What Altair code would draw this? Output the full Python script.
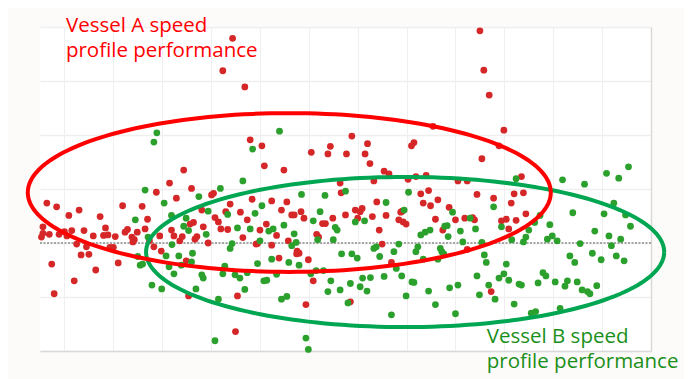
import altair as alt
import pandas as pd

# Vessel A (red) points: speed (knots) and performance deviation (%)
red_speed = [13.44, 13.24, 13.69, 13.80, 14.04, 18.50, 18.58, 18.69, 18.99, 17.54,
             18.89, 15.88, 16.20, 17.15, 17.10, 14.09, 14.49, 15.05, 15.39, 15.44,
             15.77, 12.44, 12.15, 12.60, 15.64, 16.15, 16.25, 18.54, 16.54, 16.64,
             16.33, 17.19, 17.40, 17.03, 18.05, 18.24, 19.35, 9.64, 9.84, 10.09,
             10.30, 10.73, 9.56, 9.56, 9.53, 9.69, 9.89, 10.00, 10.05, 10.15,
             10.25, 10.40, 10.45, 10.59, 10.80, 10.84, 10.89, 10.93, 11.00, 11.04,
             11.19, 11.24, 11.29, 11.38, 11.43, 11.40, 11.49, 11.59, 11.65, 11.70,
             11.74, 11.83, 11.95, 11.98, 12.29, 11.88, 12.19, 12.24, 12.41, 12.36,
             12.57, 13.01, 13.05, 13.39, 13.84, 14.24, 14.55, 15.66, 12.64, 12.81,
             12.84, 12.71, 12.67, 12.94, 13.08, 13.15, 13.20, 13.30, 13.34, 13.60,
             13.74, 13.65, 14.00, 14.13, 14.34, 14.44, 14.65, 14.70, 13.92, 13.95,
             14.24, 14.58, 14.84, 14.90, 15.16, 15.20, 15.28, 15.34, 15.49, 14.76,
             17.29, 17.45, 17.34, 17.49, 17.64, 16.39, 15.75, 15.95, 16.05, 16.09,
             16.00, 16.30, 16.58, 16.88, 16.91, 16.84, 16.93, 16.99, 16.44, 16.50,
             17.59, 17.87, 18.00, 17.74, 18.19, 18.39, 18.35, 18.44, 18.78, 18.24,
             19.20, 19.39, 19.14, 19.44, 19.24, 18.94, 19.04, 19.09, 9.74, 9.79,
             10.20, 10.34, 10.50, 10.64, 11.10, 12.49, 12.54, 13.54, 13.50, 14.39,
             14.75, 14.80, 14.99, 14.94, 15.09, 16.69, 15.85, 18.73]
red_perf = [37.9, 31.9, 28.9, 19.1, 18.0, 39.3, 32.0, 27.4, 20.9, 21.6,
            18.0, 19.8, 18.4, 18.6, 18.0, 14.3, 13.5, 16.8, 16.5, 17.9,
            16.5, 13.5, 11.1, 10.1, 11.1, 16.5, 14.7, 15.6, 13.3, 12.8,
            11.5, 12.3, 12.5, 11.8, 11.5, 11.5, 12.3, 7.4, 6.7, 5.1,
            6.1, 4.9, 3.0, 1.8, 1.1, 1.6, 1.6, 2.1, 1.3, 2.3,
            -0.2, 2.3, -0.7, 1.3, 1.4, 2.8, 1.5, -0.8, -0.8, 1.2,
            6.9, 2.0, 2.5, 1.1, 0.6, 0.2, 2.0, 6.8, 2.6, 4.4,
            0.4, -0.7, 1.3, -1.5, 8.3, 9.4, 2.4, 1.3, 1.2, 0.4,
            3.5, 8.9, 9.2, 7.2, 8.1, 7.8, 7.6, 9.3, 3.8, 6.1,
            3.0, 1.2, 0.7, 0.0, 4.7, 3.9, 2.6, 5.8, 2.5, 5.7,
            4.3, 1.0, 2.4, 3.5, 1.4, 6.1, 5.2, 5.2, -0.2, -0.1,
            -0.4, 0.4, 5.8, 4.6, 1.6, 1.1, 3.6, 3.6, 4.6, -1.5,
            9.1, 9.7, 7.4, 6.9, 8.0, 7.6, 5.2, 6.1, 5.8, 6.4,
            4.6, 4.9, 5.1, 5.7, 5.9, 4.3, 3.9, 3.5, 2.4, -0.2,
            4.4, 6.6, 4.3, 2.4, 4.6, 4.3, 4.7, 9.0, 8.3, -1.2,
            9.1, 9.3, 7.4, 5.4, 4.2, 4.1, 4.4, 2.6, -3.9, -9.4,
            -7.0, -2.2, -2.1, -5.0, -3.7, -3.3, -9.8, -9.8, -16.4, -2.8,
            -2.0, -1.9, -3.1, -11.4, -7.0, -3.6, -10.9, -9.0]

# Vessel B (green) points
green_speed = [11.89, 11.83, 14.40, 13.85, 13.19, 13.65, 11.65, 19.24, 20.19, 20.64,
               21.09, 21.34, 21.54, 15.75, 11.45, 12.04, 12.19, 12.49, 12.44, 12.54,
               11.71, 12.20, 12.75, 14.04, 14.85, 15.33, 12.94, 12.90, 13.34, 13.54,
               13.80, 13.90, 13.43, 13.39, 14.18, 14.27, 14.49, 14.00, 14.70, 14.65,
               14.74, 15.09, 15.23, 15.18, 15.54, 15.58, 15.50, 17.04, 16.58, 15.95,
               16.14, 16.95, 16.33, 16.38, 16.84, 17.29, 17.38, 17.48, 17.94, 17.78,
               17.83, 17.85, 18.10, 18.30, 18.41, 18.78, 18.15, 18.54, 17.23, 17.69,
               18.94, 19.50, 19.62, 19.73, 19.93, 19.15, 19.44, 19.39, 19.88, 19.98,
               20.08, 20.40, 21.24, 21.04, 21.48, 21.58, 20.85, 21.14, 21.38, 20.55,
               21.19, 11.50, 11.55, 11.60, 11.79, 11.99, 12.08, 12.14, 12.24, 12.34,
               12.39, 12.62, 12.60, 12.81, 12.84, 12.69, 13.28, 13.24, 13.49, 13.59,
               13.74, 13.69, 13.15, 13.08, 13.95, 14.24, 14.08, 14.14, 14.34, 14.59,
               14.80, 14.44, 14.55, 14.94, 14.99, 15.04, 15.15, 15.30, 15.45, 15.39,
               15.64, 15.67, 15.88, 15.99, 16.45, 16.74, 17.19, 17.72, 17.76, 16.79,
               17.34, 17.64, 16.90, 15.85, 16.10, 16.26, 16.05, 16.19, 16.54, 17.11,
               17.15, 16.99, 17.45, 15.80, 16.69, 17.59, 17.88, 18.05, 18.00, 18.44,
               18.59, 18.63, 18.68, 18.49, 18.81, 18.89, 18.99, 19.04, 19.09, 19.30,
               19.35, 19.20, 19.55, 19.64, 19.69, 19.79, 19.85, 20.04, 20.34, 20.44,
               20.29, 20.24, 20.14, 20.49, 20.59, 20.70, 20.75, 20.89, 20.80, 20.98,
               21.29, 21.45]
green_perf = [20.4, 18.7, 20.7, 17.4, 10.1, 11.5, 9.8, 11.9, 11.7, 10.9,
              12.9, 12.0, 14.1, 9.6, 4.3, 7.4, 5.1, 4.6, 3.1, 2.3,
              1.1, -0.3, 8.6, 6.9, 9.0, 8.8, 5.9, 1.6, 5.3, 2.8,
              2.6, 5.5, -0.1, -1.0, 2.2, 2.6, 3.3, 0.4, 1.7, -0.5,
              0.1, 4.1, 5.8, 0.6, 2.9, 2.4, 0.6, 9.4, 7.5, 3.9,
              4.1, 6.1, -1.0, -0.7, -0.2, 1.5, 2.0, 2.4, 5.7, 3.1,
              3.2, 1.2, 2.2, 4.6, 2.6, 6.7, 0.2, 0.1, -0.7, -1.0,
              3.0, 2.4, 3.8, 5.1, 3.4, 0.6, 1.1, 0.2, 0.7, 1.3,
              0.4, 5.6, 7.4, 5.4, 5.2, 3.1, 2.2, 1.3, 0.7, -0.1,
              -0.5, -2.5, -4.1, -3.9, -7.8, -8.5, -2.4, -4.4, -5.7, -2.4,
              -4.1, -1.9, -3.5, -5.9, -6.5, -8.5, -4.3, -5.7, -5.9, -6.5,
              -5.5, -8.6, -10.4, -18.1, -3.8, -3.0, -7.0, -6.9, -5.8, -3.6,
              -4.1, -10.4, -9.9, -17.6, -19.7, -5.7, -5.1, -5.1, -7.0, -9.0,
              -8.7, -2.0, -2.0, -2.8, -2.5, -1.6, -1.6, -1.6, -2.0, -4.7,
              -3.0, -3.0, -6.1, -7.5, -6.5, -6.4, -8.1, -8.9, -6.2, -7.2,
              -7.3, -9.8, -8.9, -11.1, -13.3, -11.4, -8.3, -7.8, -13.1, -6.1,
              -2.2, -3.6, -7.8, -9.6, -10.4, -6.5, -5.7, -3.9, -6.9, -7.6,
              -7.8, -11.3, -13.0, -12.7, -7.4, -5.5, -6.1, -7.2, -2.4, -3.6,
              -7.0, -8.0, -12.1, -7.2, -8.7, -9.0, -9.4, -7.9, -1.9, -3.1,
              -2.4, -3.3]

label_a = ["Vessel A speed", "profile performance"]
label_b = ["Vessel B speed", "profile performance"]

red_df = pd.DataFrame({"speed": red_speed, "perf": red_perf})
green_df = pd.DataFrame({"speed": green_speed, "perf": green_perf})

xs = alt.Scale(domain=[9.5, 22], nice=False, zero=False)
ys = alt.Scale(domain=[-20, 40], nice=False, zero=False)
xax = alt.Axis(values=list(range(10, 23)), labels=False, ticks=False, title=None,
               grid=True, gridColor="#efefef", gridWidth=1,
               domainColor="#d9d9d9", domainWidth=1.5)
yax = alt.Axis(orient="right", values=list(range(-20, 41, 10)), labels=False,
               ticks=False, title=None, grid=True, gridColor="#efefef",
               gridWidth=1.5, domainColor="#d9d9d9", domainWidth=1.5)

zero_line = alt.Chart(pd.DataFrame({"speed": [9.5, 22], "perf": [0, 0]})).mark_line(
    color="#8c8c8c", strokeWidth=1.5, strokeDash=[2, 1.5]
).encode(
    x=alt.X("speed:Q", scale=xs, axis=xax),
    y=alt.Y("perf:Q", scale=ys, axis=yax),
)

red_pts = alt.Chart(red_df).mark_circle(size=46, color="#d62728", opacity=1).encode(
    x=alt.X("speed:Q", scale=xs, axis=xax),
    y=alt.Y("perf:Q", scale=ys, axis=yax),
)
green_pts = alt.Chart(green_df).mark_circle(size=46, color="#2ca02c", opacity=1).encode(
    x=alt.X("speed:Q", scale=xs, axis=xax),
    y=alt.Y("perf:Q", scale=ys, axis=yax),
)


def ellipse(cx, cy, a, b, color):
    return alt.Chart(alt.sequence(0, 361, 2, as_="t")).transform_calculate(
        ex=f"{cx} + {a} * cos(datum.t * PI / 180)",
        ey=f"{cy} + {b} * sin(datum.t * PI / 180)",
    ).mark_line(color=color, strokeWidth=4).encode(
        x=alt.X("ex:Q", scale=xs, axis=xax),
        y=alt.Y("ey:Q", scale=ys, axis=yax),
        order="t:Q",
    )


green_ell = ellipse(16.97, -1.67, 5.30, 13.9, "#00a651")
red_ell = ellipse(14.60, 9.35, 5.35, 14.7, "#ff0000")

text_a = alt.Chart(pd.DataFrame({"speed": [10.03], "perf": [39.0],
                                 "label": ["\n".join(label_a)]})).mark_text(
    align="left", baseline="alphabetic", lineBreak="\n", lineHeight=25,
    font="Open Sans", fontSize=20.5, color="#ff0000"
).encode(
    x=alt.X("speed:Q", scale=xs, axis=xax),
    y=alt.Y("perf:Q", scale=ys, axis=yax),
    text="label:N",
)
text_b = alt.Chart(pd.DataFrame({"speed": [18.64], "perf": [-18.6],
                                 "label": ["\n".join(label_b)]})).mark_text(
    align="left", baseline="alphabetic", lineBreak="\n", lineHeight=25,
    font="Open Sans", fontSize=20.5, color="#1a8f1a"
).encode(
    x=alt.X("speed:Q", scale=xs, axis=xax),
    y=alt.Y("perf:Q", scale=ys, axis=yax),
    text="label:N",
)

chart = alt.layer(
    zero_line, red_pts, green_pts, green_ell, red_ell, text_a, text_b
).properties(
    width=611, height=324,
    autosize=alt.AutoSizeParams(type="none"),
    padding={"left": 32, "top": 19, "right": 33, "bottom": 28},
    background="#fcfbf9",
).configure_view(stroke=None, fill="white")

chart.save("out.html", embed_options={"renderer": "svg", "actions": False})
